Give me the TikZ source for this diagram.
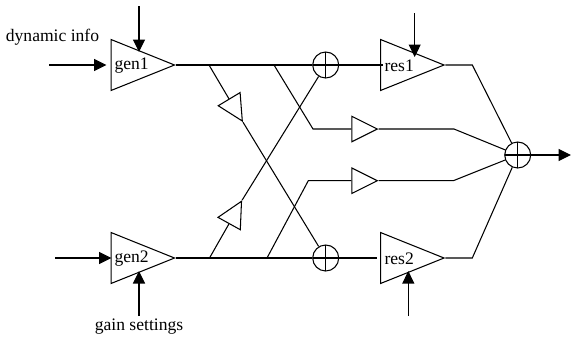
\documentclass[tikz,border=0pt]{standalone}
\usepackage{fontspec}
\setmainfont{Liberation Serif}
\usetikzlibrary{shapes.geometric,arrows.meta,positioning}
\tikzset{
    amp/.style={draw, isosceles triangle, isosceles triangle apex angle=43.8, isosceles triangle stretches, minimum width=1.02cm, minimum height=1.27cm, inner sep=0pt, anchor=lower side},
    smallamp/.style={draw, isosceles triangle, isosceles triangle stretches, minimum width=0.51cm, minimum height=0.51cm, inner sep=0pt, anchor=lower side},
    sum/.style={draw, circle, minimum size=0.52cm, inner sep=0pt, path picture={
        \draw (path picture bounding box.north) -- (path picture bounding box.south);
        \draw (path picture bounding box.west) -- (path picture bounding box.east);}},
    lab/.style={inner sep=0pt},
    arrow/.style={-{Triangle[length=2.5mm,width=2.4mm]}}
}
\begin{document}
\begin{tikzpicture}[x=0.02cm, y=-0.02cm, line width=0.6pt, font=\fontsize{10}{12}\selectfont]
    \useasboundingbox (0,0) rectangle (571,339);

    % amplifiers
    \node[amp] (gen1) at (110.5,65) {};
    \node[amp] (gen2) at (110.5,258) {};
    \node[amp] (res1) at (380,65) {};
    \node[amp] (res2) at (380,258) {};
    \node[lab, anchor=west] (gen1text) at (114,65.5) {gen1};
    \node[lab, anchor=west] (gen2text) at (114,258.5) {gen2};
    \node[lab, anchor=west] (res1text) at (384,65.5) {res1};
    \node[lab, anchor=west] (res2text) at (384,258.5) {res2};

    \node[sum] (sum1) at (325.7,65) {};
    \node[sum] (sum2) at (325.7,258) {};
    \node[sum] (sum3) at (517.7,155) {};

    \node[smallamp] (upper) at (351.3,129) {};
    \node[smallamp] (lower) at (351.3,180.7) {};
    \node[smallamp, rotate=-59] (cross1) at (228.9,98.7) {};
    \node[smallamp, rotate=61] (cross2) at (228.9,224) {};

    \node[lab] (dyn) at (52.5,37) {dynamic info};
    \node[lab] (gain) at (139,327) {gain settings};

    % corners and free ends
    \coordinate (a1) at (209,65);
    \coordinate (a2) at (274,65);
    \coordinate (a3) at (313,129);
    \coordinate (a4) at (454,129);
    \coordinate (b1) at (209.5,258);
    \coordinate (b2) at (267,258);
    \coordinate (b3) at (308.3,180.7);
    \coordinate (b4) at (453.3,180.7);
    \coordinate (c1) at (472.3,65);
    \coordinate (c2) at (472.3,258);
    \coordinate (r1) at (383,65);
    \coordinate (r2) at (376.7,258);

    \draw (gen1.apex) -- (sum1) -- (r1);
    \draw (gen2.apex) -- (sum2) -- (r2);
    \draw (a1) -- (cross1.lower side);
    \draw (cross1.apex) -- (sum2);
    \draw (b1) -- (cross2.lower side);
    \draw (cross2.apex) -- (sum1);
    \draw (a2) -- (a3) -- (upper.lower side);
    \draw (b2) -- (b3) -- (lower.lower side);
    \draw (upper.apex) -- (a4) -- (sum3);
    \draw (lower.apex) -- (b4) -- (sum3);
    \draw (res1.apex) -- (c1) -- (sum3);
    \draw (res2.apex) -- (c2) -- (sum3);

    % inputs
    \coordinate (in1) at (49,65);
    \coordinate (in1end) at (106.5,65);
    \coordinate (in2) at (55,258);
    \coordinate (in2end) at (111.5,258);
    \coordinate (top1) at (139,6);
    \coordinate (top1end) at (139,52);
    \coordinate (bot1) at (139,316);
    \coordinate (bot1end) at (139,271);
    \coordinate (top2) at (414.7,13);
    \coordinate (top2end) at (414.7,57);
    \coordinate (bot2) at (408.3,316);
    \coordinate (bot2end) at (408.3,271);
    \coordinate (out) at (571,155);

    \draw[arrow] (in1) -- (in1end);
    \draw[arrow] (in2) -- (in2end);
    \draw[arrow] (top1) -- (top1end);
    \draw[arrow] (bot1) -- (bot1end);
    \draw[arrow] (top2) -- (top2end);
    \draw[arrow] (bot2) -- (bot2end);
    \draw[arrow] (sum3) -- (out);
\end{tikzpicture}
\end{document}
